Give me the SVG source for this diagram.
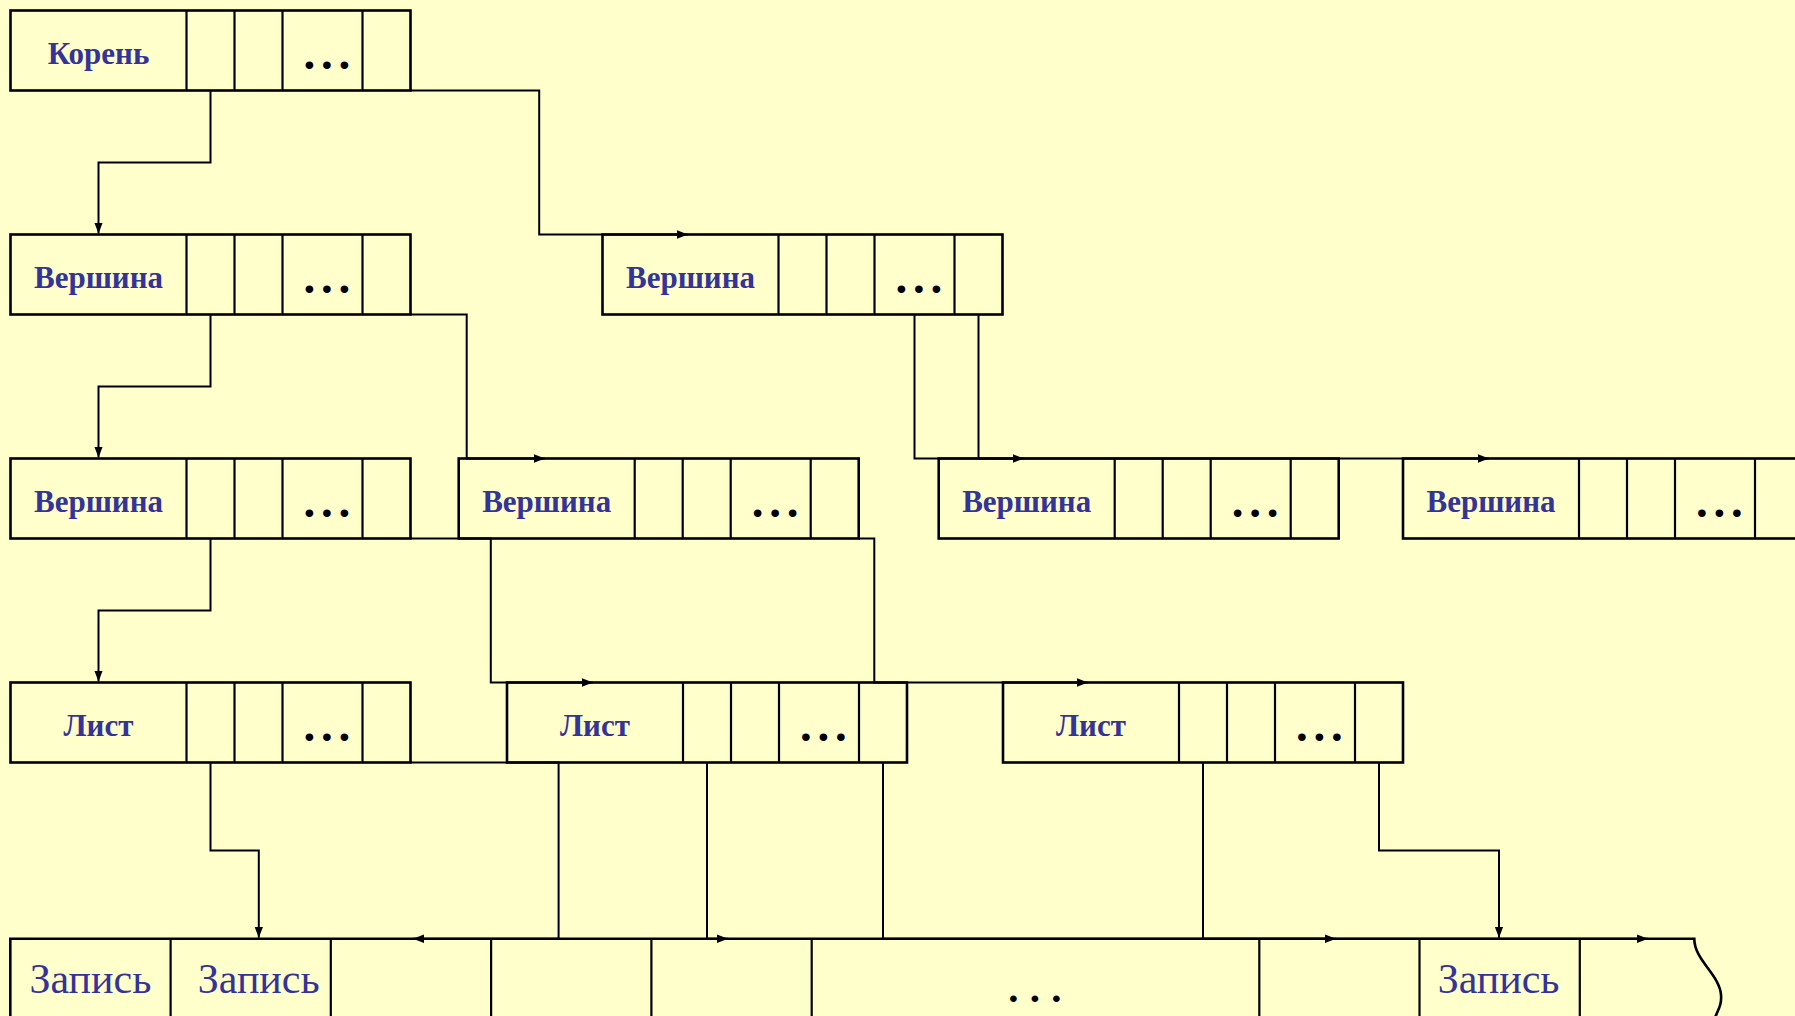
<svg xmlns="http://www.w3.org/2000/svg" width="1795" height="1016" viewBox="0 0 1795 1016">
<defs>
<style>
.box{fill:none;stroke:#000;stroke-width:2.6}
.dv{stroke:#000;stroke-width:2.2}
.lbl{font-family:"Liberation Serif","Times New Roman",serif;font-weight:bold;font-size:31px;fill:#333399;text-anchor:middle}
.dots{font-family:"Liberation Serif","Times New Roman",serif;font-weight:bold;font-size:47px;fill:#000;letter-spacing:5.75px}
.rec{font-family:"Liberation Serif","Times New Roman",serif;font-size:42px;fill:#333399;text-anchor:middle}
.rdots{font-family:"Liberation Serif","Times New Roman",serif;font-weight:bold;font-size:41px;fill:#000;letter-spacing:11.25px}
.cn{fill:none;stroke:#000;stroke-width:2}
</style>
<marker id="ah" markerUnits="userSpaceOnUse" markerWidth="12" markerHeight="10" refX="11" refY="4.25" orient="auto">
<path d="M0,0 L11,4.25 L0,8.5 z" fill="#000"/>
</marker>
<g id="cells">
<rect class="box" x="0" y="0" width="400" height="80"/>
<line class="dv" x1="176" y1="0" x2="176" y2="80"/>
<line class="dv" x1="224" y1="0" x2="224" y2="80"/>
<line class="dv" x1="272" y1="0" x2="272" y2="80"/>
<line class="dv" x1="352" y1="0" x2="352" y2="80"/>
<text class="dots" x="293.1" y="58.5">...</text>
</g>
</defs>
<rect x="0" y="0" width="1795" height="1016" fill="#FFFFCC"/>

<g id="connectors">
<path class="cn" d="M210.5,90.5 V162.5 H98.5 V233.5" marker-end="url(#ah)"/>
<path class="cn" d="M410.5,90.5 H539.2 V234.5 H688" marker-end="url(#ah)"/>
<path class="cn" d="M210.5,314.5 V386.5 H98.5 V457.5" marker-end="url(#ah)"/>
<path class="cn" d="M410.5,314.5 H466.7 V458.5 H545" marker-end="url(#ah)"/>
<path class="cn" d="M914.5,314.5 V458.5 H1024" marker-end="url(#ah)"/>
<path class="cn" d="M978.5,314.5 V458.5 H1489" marker-end="url(#ah)"/>
<path class="cn" d="M210.5,538.5 V610.5 H98.5 V681.5" marker-end="url(#ah)"/>
<path class="cn" d="M410.5,538.5 H490.8 V682.5 H593" marker-end="url(#ah)"/>
<path class="cn" d="M858.5,538.5 H874.3 V682.5 H1088" marker-end="url(#ah)"/>
<path class="cn" d="M210.5,762.5 V850.6 H258.8 V937.7" marker-end="url(#ah)"/>
<path class="cn" d="M410.5,762.5 H558.6 V938.7 H413" marker-end="url(#ah)"/>
<path class="cn" d="M707,762.5 V938.7 H728" marker-end="url(#ah)"/>
<path class="cn" d="M883,762.5 V938.7 H1336" marker-end="url(#ah)"/>
<path class="cn" d="M1203,762.5 V938.7 H1648" marker-end="url(#ah)"/>
<path class="cn" d="M1379,762.5 V850.6 H1499 V937.7" marker-end="url(#ah)"/>
</g>

<g id="root" transform="translate(10.5,10.5)">
<use href="#cells"/>
<text class="lbl" x="88" y="53">Корень</text>
</g>
<g id="v1" transform="translate(10.5,234.5)">
<use href="#cells"/>
<text class="lbl" x="88" y="53">Вершина</text>
</g>
<g id="v2" transform="translate(602.5,234.5)">
<use href="#cells"/>
<text class="lbl" x="88" y="53">Вершина</text>
</g>
<g id="v3" transform="translate(10.5,458.5)">
<use href="#cells"/>
<text class="lbl" x="88" y="53">Вершина</text>
</g>
<g id="v4" transform="translate(458.7,458.5)">
<use href="#cells"/>
<text class="lbl" x="88" y="53">Вершина</text>
</g>
<g id="v5" transform="translate(938.7,458.5)">
<use href="#cells"/>
<text class="lbl" x="88" y="53">Вершина</text>
</g>
<g id="v6" transform="translate(1403,458.5)">
<use href="#cells"/>
<text class="lbl" x="88" y="53">Вершина</text>
</g>
<g id="leaf1" transform="translate(10.5,682.5)">
<use href="#cells"/>
<text class="lbl" x="88" y="53">Лист</text>
</g>
<g id="leaf2" transform="translate(507,682.5)">
<use href="#cells"/>
<text class="lbl" x="88" y="53">Лист</text>
</g>
<g id="leaf3" transform="translate(1003,682.5)">
<use href="#cells"/>
<text class="lbl" x="88" y="53">Лист</text>
</g>

<g id="records">
<path class="box" d="M10.3,1020 V938.7 H1694.3 C1694,960 1720,975 1721,995 C1722,1005 1718,1010 1713,1022"/>
<line class="dv" x1="170.6" y1="938.7" x2="170.6" y2="1020"/>
<line class="dv" x1="330.8" y1="938.7" x2="330.8" y2="1020"/>
<line class="dv" x1="491.1" y1="938.7" x2="491.1" y2="1020"/>
<line class="dv" x1="651.4" y1="938.7" x2="651.4" y2="1020"/>
<line class="dv" x1="811.7" y1="938.7" x2="811.7" y2="1020"/>
<line class="dv" x1="1259.3" y1="938.7" x2="1259.3" y2="1020"/>
<line class="dv" x1="1419.5" y1="938.7" x2="1419.5" y2="1020"/>
<line class="dv" x1="1579.8" y1="938.7" x2="1579.8" y2="1020"/>
<text class="rec" x="90.4" y="993.3">Запись</text>
<text class="rec" x="258.7" y="993.3">Запись</text>
<text class="rec" x="1498.6" y="993.3">Запись</text>
<text class="rdots" x="1008.2" y="1002.2">...</text>
</g>
</svg>
